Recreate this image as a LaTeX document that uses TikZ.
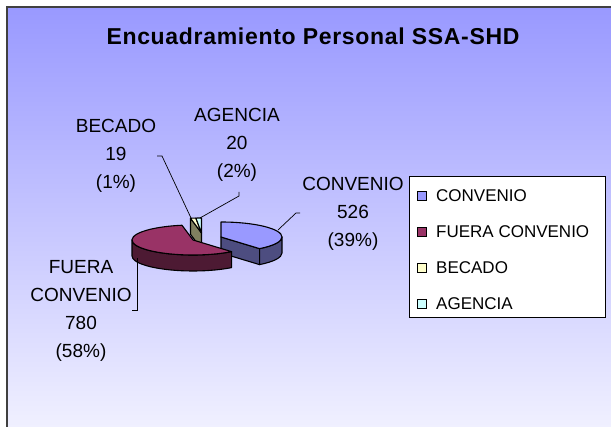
\documentclass[tikz,border=0pt]{standalone}
\usepackage{fontspec}
\setmainfont{Liberation Sans}
\newfontfamily\titlefont[LetterSpace=3]{Liberation Sans}
\definecolor{bgtop}{HTML}{9999FF}
\definecolor{bgbot}{HTML}{F0F0FF}
\definecolor{framecol}{HTML}{404040}
\definecolor{bluetop}{HTML}{9999FF}
\definecolor{blueside}{HTML}{4D4D80}
\definecolor{fueratop}{HTML}{993366}
\definecolor{fueraside}{HTML}{4D1A33}
\definecolor{bectop}{HTML}{FFFFCC}
\definecolor{becside}{HTML}{808060}
\definecolor{agetop}{HTML}{CCFFFF}
\begin{document}
\begin{tikzpicture}[x=1pt,y=1pt,
  edge/.style={draw=black, line width=1.1pt, line join=round},
  leader/.style={draw=black, line width=0.7pt},
  lbl/.style={align=center, font=\fontsize{19}{28}\selectfont, inner sep=0pt},
  legtxt/.style={anchor=west, font=\fontsize{17}{20}\selectfont, inner sep=0pt},
  legmark/.style={draw=black, line width=0.8pt, minimum size=9pt, inner sep=0pt},
  ell/.style={x radius=61, y radius=15}
]
\useasboundingbox (0,0) rectangle (611,-427);
\shade[top color=bgtop, bottom color=bgbot] (7,-7) rectangle (611,-427);
\draw[line width=2pt, framecol] (7,-427) -- (7,-7) -- (611,-7);

% title
\node[inner sep=0pt] (title) at (313,-36.5) {\titlefont\fontsize{23}{26}\selectfont\bfseries Encuadramiento Personal SSA-SHD};

% pie centres
\coordinate (cB) at (221,-237);
\coordinate (cF) at (193,-240);
\coordinate (cT) at (201.5,-233);

% CONVENIO slice
\draw[edge, fill=blueside] (cB) -- ++(-50.8:61 and 15) -- ++(0,-16) -- ++(129.2:61 and 15) -- cycle;
\draw[edge, fill=blueside] (cB) ++(-50.8:61 and 15) arc[start angle=-50.8, end angle=0, ell] -- ++(0,-16) arc[start angle=0, end angle=-50.8, ell] -- cycle;
\draw[edge, fill=bluetop] (cB) -- ++(90:61 and 15) arc[start angle=90, end angle=-50.8, ell] -- cycle;

% BECADO and AGENCIA slices
\draw[edge, fill=becside] (cT) -- ++(100.4:61 and 15) -- ++(0,-16) -- ++(-79.6:61 and 15) -- cycle;
\draw[edge, fill=bectop] (cT) -- ++(100.4:61 and 15) arc[start angle=100.4, end angle=95.3, ell] -- cycle;
\draw[edge, fill=agetop] (cT) -- ++(95.3:61 and 15) arc[start angle=95.3, end angle=90, ell] -- cycle;
\draw[edge] (cT) ++(0,15) -- ++(0,-31);

% FUERA CONVENIO slice
\draw[edge, fill=fueraside] (cF) ++(180:61 and 15) arc[start angle=180, end angle=309.2, ell] -- ++(0,-16) arc[start angle=309.2, end angle=180, ell] -- cycle;
\draw[edge, fill=fueratop] (cF) -- ++(100.4:61 and 15) arc[start angle=100.4, end angle=309.2, ell] -- cycle;

% data labels
\node[lbl] (lbec) at (116,-156) {BECADO\\19\\(1\%)};
\node[lbl] (lage) at (237,-145) {AGENCIA\\20\\(2\%)};
\node[lbl] (lcon) at (353,-214) {CONVENIO\\526\\(39\%)};
\node[lbl] (lfue) at (81,-310.5) {FUERA\\CONVENIO\\780\\(58\%)};

% leader lines
\coordinate (sbec) at (157,-156);
\coordinate (tbec) at (191,-218);
\coordinate (sage) at (239,-192);
\coordinate (tage) at (200,-218);
\coordinate (scon) at (300,-213);
\coordinate (tcon) at (278,-230);
\coordinate (sfue) at (132,-310);
\coordinate (tfue) at (137,-258);
\draw[leader] (sbec) -- ++(5,0) -- (tbec);
\draw[leader] (sage) -- ++(0,-4) -- (tage);
\draw[leader] (scon) -- ++(-4,0) -- (tcon);
\draw[leader] (sfue) -- ++(5,0) -- (tfue);

% legend
\node[draw=black, line width=0.8pt, fill=white, minimum width=196pt, minimum height=141pt, inner sep=0pt] (legend) at (507,-246.5) {};
\node[legmark, fill=bluetop] (m1) at (422,-196) {};
\node[legmark, fill=fueratop] (m2) at (422,-232) {};
\node[legmark, fill=bectop] (m3) at (422,-268) {};
\node[legmark, fill=agetop] (m4) at (422,-304) {};
\node[legtxt] (t1) at (436,-196) {CONVENIO};
\node[legtxt] (t2) at (436,-232) {FUERA CONVENIO};
\node[legtxt] (t3) at (436,-268) {BECADO};
\node[legtxt] (t4) at (436,-304) {AGENCIA};
\end{tikzpicture}
\end{document}
